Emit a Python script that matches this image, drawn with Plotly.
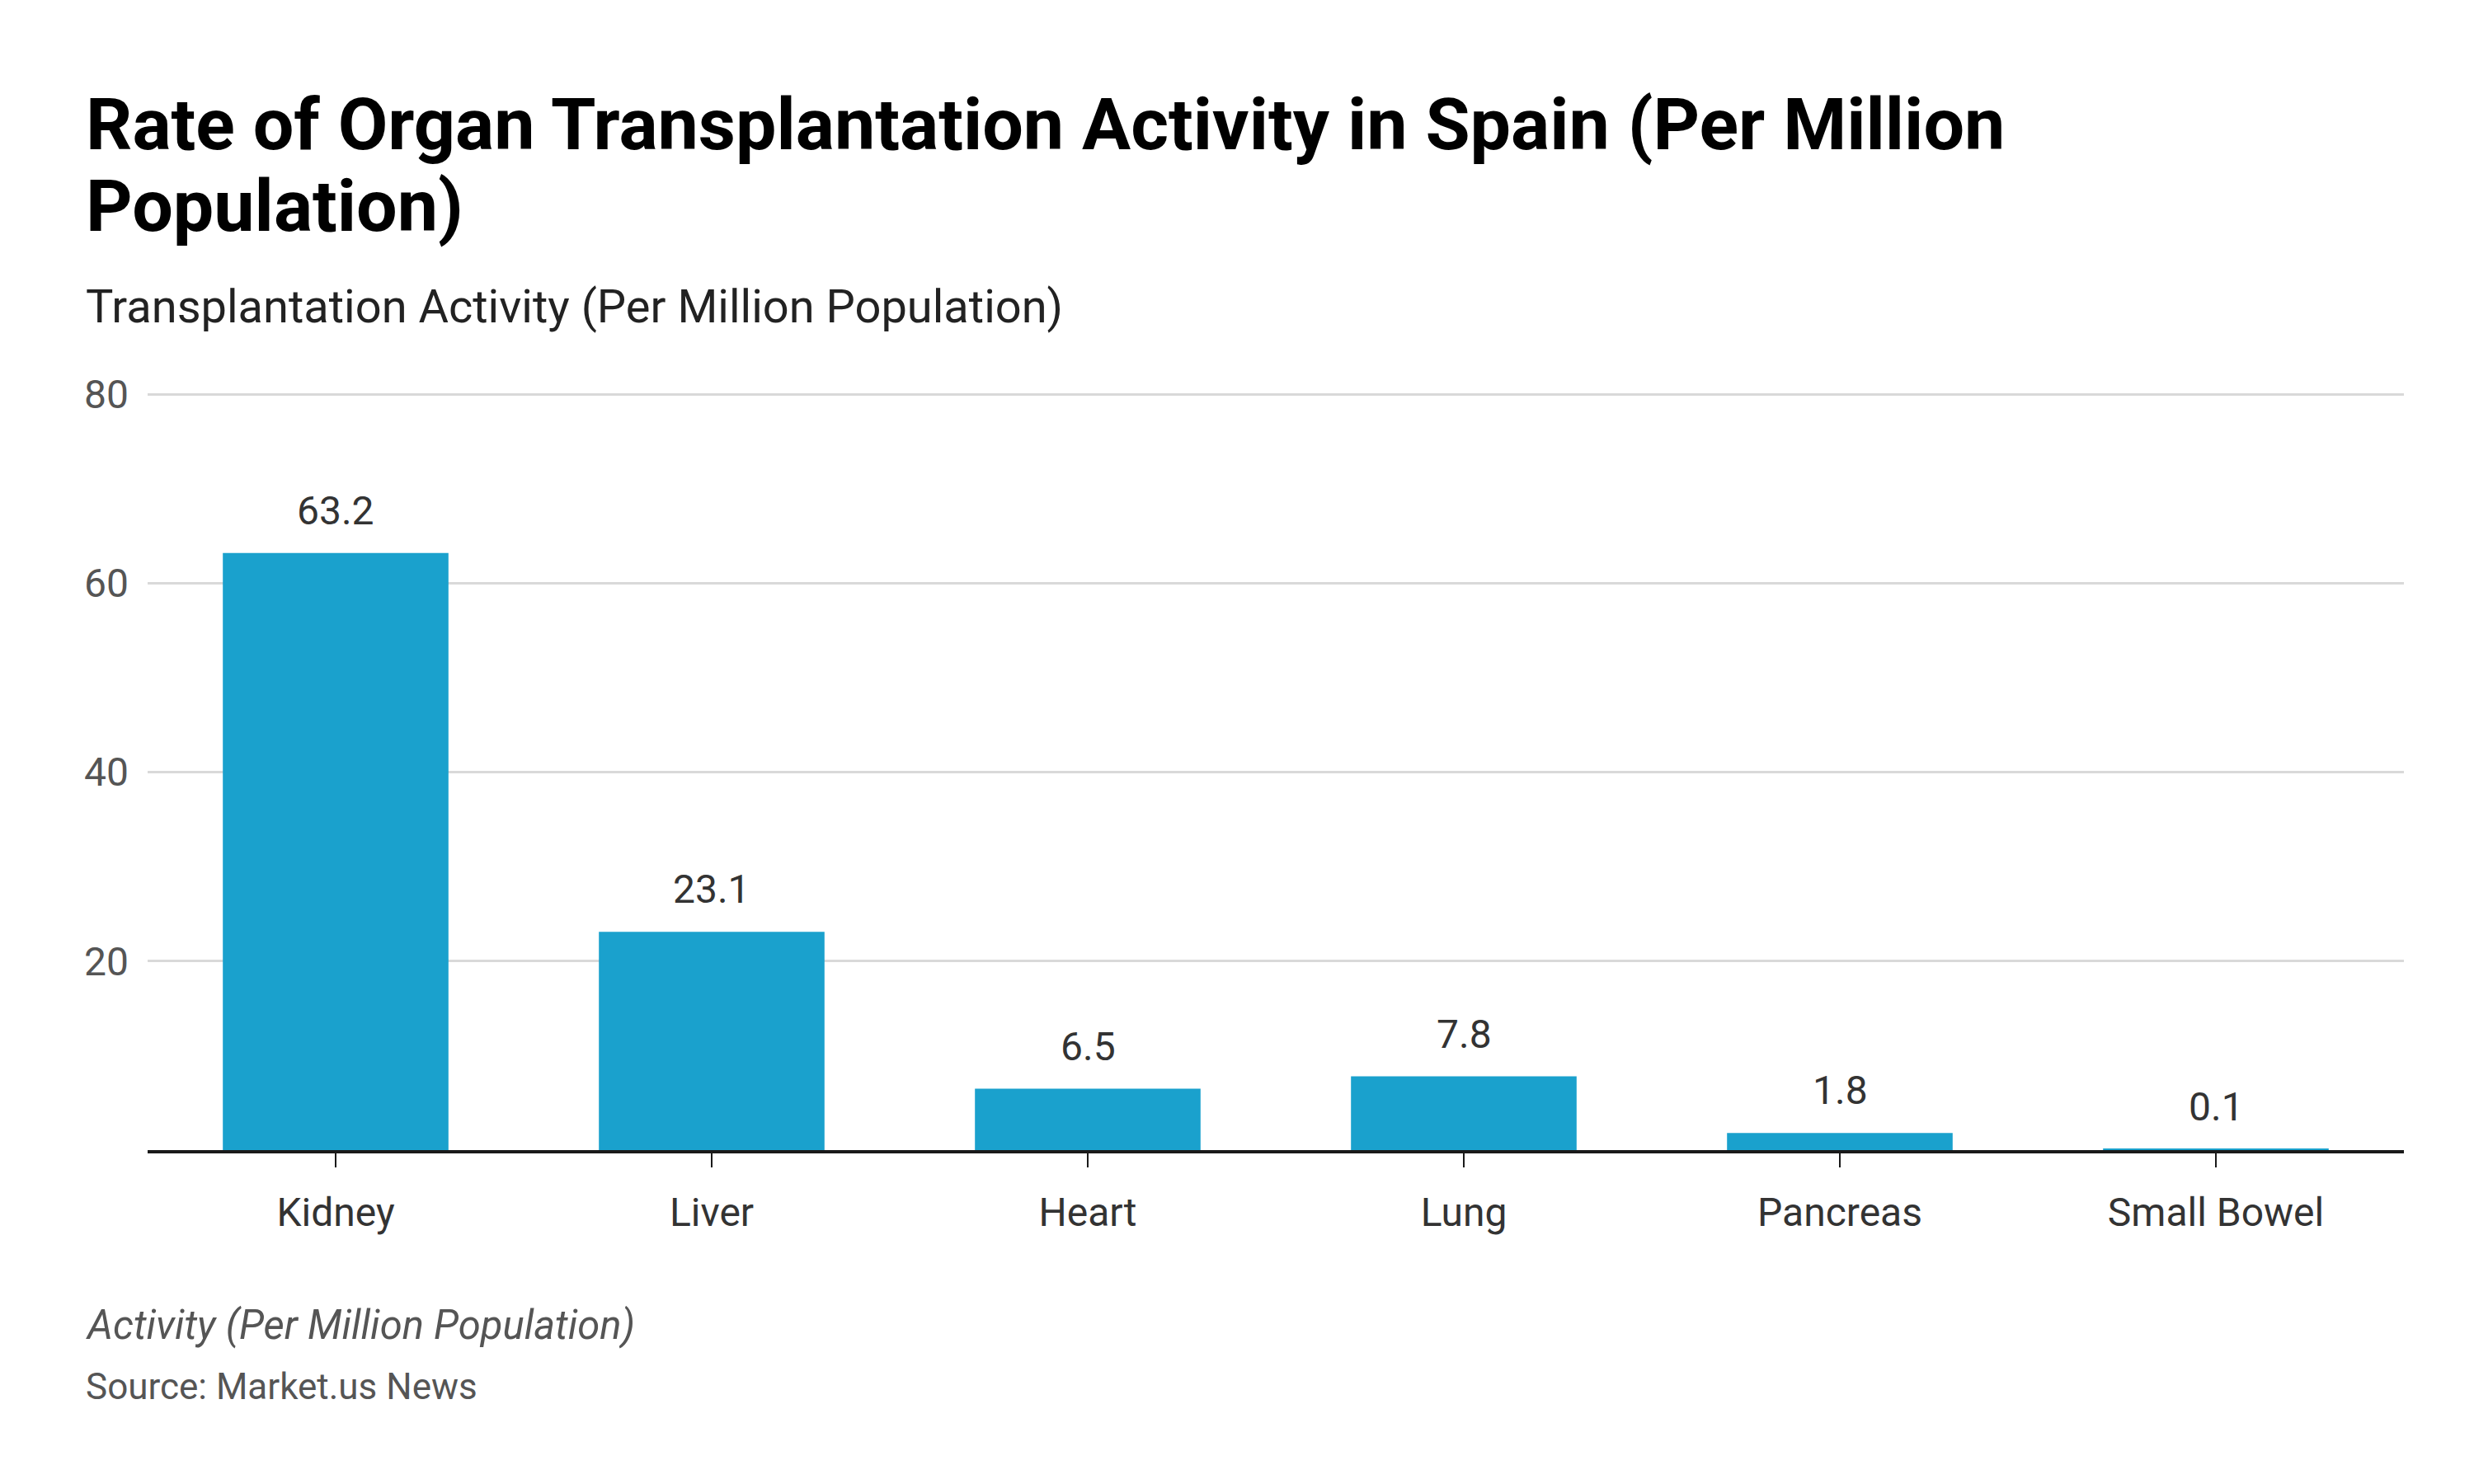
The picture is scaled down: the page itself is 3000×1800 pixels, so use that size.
import plotly.graph_objects as go

categories = ["Kidney", "Liver", "Heart", "Lung", "Pancreas", "Small Bowel"]
values = [63.2, 23.1, 6.5, 7.8, 1.8, 0.1]
y_ticks = [20, 40, 60, 80]

title_line1 = "Rate of Organ Transplantation Activity in Spain (Per Million"
title_line2 = "Population)"
subtitle_text = "Transplantation Activity (Per Million Population)"
footer_note = "Activity (Per Million Population)"
source_text = "Source: Market.us News"

BAR_COLOR = "#1aa1cd"
W, H = 2984, 1784
ML, MT = 171, 468
PLOT_RIGHT, PLOT_BOTTOM = 2907, 1387
MR, MB = W - PLOT_RIGHT, H - PLOT_BOTTOM
plot_h = PLOT_BOTTOM - MT
plot_w = PLOT_RIGHT - ML
TEXT_LEFT = 94


def py(y_px):
    return (PLOT_BOTTOM - y_px) / plot_h


left_x = (TEXT_LEFT - ML) / plot_w


def text_line(text, baseline, size, color, weight="normal"):
    return dict(
        xref="paper", yref="paper", x=left_x, y=py(baseline),
        xanchor="left", yanchor="bottom", yshift=-0.275 * size,
        text=text, showarrow=False,
        font=dict(family="Roboto", size=size, color=color, weight=weight),
    )


fig = go.Figure()
fig.add_trace(go.Bar(
    x=categories, y=values, marker=dict(color=BAR_COLOR, line=dict(width=0)),
    hoverinfo="skip",
))

annotations = []
for c, v in zip(categories, values):
    annotations.append(dict(
        x=c, y=v, xref="x", yref="y", text=f"{v}", showarrow=False,
        yanchor="bottom", yshift=21,
        font=dict(family="Roboto", size=48, color="#333333"),
    ))

annotations += [
    text_line(title_line1, 172, 88, "#000000", "bold"),
    text_line(title_line2, 271, 88, "#000000", "bold"),
    text_line(subtitle_text, 384, 56, "#222222"),
    text_line(f"<i>{footer_note}</i>", 1617, 49, "#555555"),
    text_line(source_text, 1690, 44, "#555555"),
]

fig.update_layout(
    width=W, height=H,
    margin=dict(l=ML, r=MR, t=MT, b=MB),
    paper_bgcolor="white", plot_bgcolor="white",
    showlegend=False,
    bargap=0.4,
    xaxis=dict(
        range=[-0.5, 5.5], showline=True, linecolor="#1a1a1a", linewidth=4,
        ticks="outside", ticklen=17, tickwidth=2, tickcolor="#1a1a1a",
        showgrid=False, zeroline=False, ticklabelstandoff=13,
        tickfont=dict(family="Roboto", size=48, color="#333333"),
    ),
    yaxis=dict(
        range=[0, 80.2], tickvals=y_ticks, showline=False, zeroline=False,
        showgrid=True, gridcolor="#d9d9d9", gridwidth=3,
        ticks="", ticklabelstandoff=22,
        tickfont=dict(family="Roboto", size=48, color="#555555"),
    ),
    annotations=annotations,
)

fig.write_html("out.html")
